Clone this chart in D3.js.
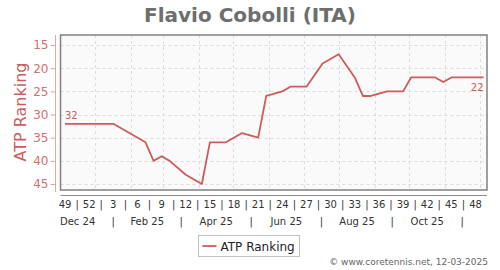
<!DOCTYPE html>
<html>
<head>
<meta charset="utf-8">
<script src="https://cdn.jsdelivr.net/npm/d3@7"></script>
<style>
  body { margin: 0; background: #fff; }
  svg { display: block; font-family: "DejaVu Sans", sans-serif; }
</style>
</head>
<body>
<div id="chart"></div>
<script>
// ranking weeks (Monday of the ATP week) and the ranking that week
var rankDates = ["2024-12-02", "2025-01-13", "2025-02-10", "2025-02-17", "2025-02-24",
  "2025-03-03", "2025-03-17", "2025-03-31", "2025-04-07", "2025-04-21", "2025-05-05",
  "2025-05-19", "2025-05-26", "2025-06-09", "2025-06-16", "2025-06-30", "2025-07-14",
  "2025-07-28", "2025-08-11", "2025-08-18", "2025-08-25", "2025-09-08", "2025-09-22",
  "2025-09-29", "2025-10-20", "2025-10-27", "2025-11-03", "2025-12-01"];
var rankValues = [32, 32, 36, 40, 39, 40, 43, 45, 36, 36, 34, 35, 26, 25, 24, 24, 19,
  17, 22, 26, 26, 25, 25, 22, 22, 23, 22, 22];

var weekLabels = [49, 52, 3, 6, 9, 12, 15, 18, 21, 24, 27, 30, 33, 36, 39, 42, 45, 48];
var monthLabels = ["Dec 24", "Feb 25", "Apr 25", "Jun 25", "Aug 25", "Oct 25"];
var yTicks = [15, 20, 25, 30, 35, 40, 45];

var seriesName = "ATP Ranking";
var title = "Flavio Cobolli (ITA)";
var credit = "\u00a9 www.coretennis.net, 12-03-2025";

function main() {
  var width = 500, height = 270;
  var plot = {left: 60.5, right: 487, top: 35, bottom: 190};
  var red = "#cd5c5c";

  var parse = d3.timeParse("%Y-%m-%d");
  // a week is drawn at its middle (Thursday noon)
  var mid = function(d) { return d3.timeHour.offset(d, 84); };
  var data = rankDates.map(function(d, i) { return {date: mid(parse(d)), rank: rankValues[i]}; });

  var x = d3.scaleTime()
    .domain([new Date(2024, 11, 1, 14), new Date(2025, 11, 7, 12)])
    .range([plot.left, plot.right]);
  var y = d3.scaleLinear()
    .domain([12.84, 46.29])
    .range([plot.top, plot.bottom]);

  var svg = d3.select("#chart").append("svg")
    .attr("width", width)
    .attr("height", height);

  svg.append("text")
    .attr("x", 250).attr("y", 22)
    .attr("text-anchor", "middle")
    .attr("font-size", 20).attr("font-weight", "bold")
    .attr("fill", "#6e6e6e")
    .text(title);

  // plot background
  svg.append("rect")
    .attr("x", plot.left).attr("y", plot.top)
    .attr("width", plot.right - plot.left).attr("height", plot.bottom - plot.top)
    .attr("fill", "#fafafa");

  // grid
  var grid = svg.append("g").attr("stroke", "#dcdcdc").attr("stroke-dasharray", "3,3");
  grid.selectAll("line.h")
    .data(yTicks)
    .enter().append("line")
    .attr("x1", plot.left).attr("x2", plot.right)
    .attr("y1", function(d) { return Math.round(y(d)) + 0.5; })
    .attr("y2", function(d) { return Math.round(y(d)) + 0.5; });
  var months = d3.timeMonth.range(x.domain()[0], x.domain()[1]);
  grid.selectAll("line.v")
    .data(months)
    .enter().append("line")
    .attr("y1", plot.top).attr("y2", plot.bottom)
    .attr("x1", function(d) { return Math.round(x(d)) + 0.5; })
    .attr("x2", function(d) { return Math.round(x(d)) + 0.5; });

  // the ranking line
  var line = d3.line()
    .x(function(d) { return x(d.date); })
    .y(function(d) { return y(d.rank); });
  svg.append("path")
    .datum(data)
    .attr("d", line)
    .attr("fill", "none")
    .attr("stroke", red)
    .attr("stroke-width", 1.8)
    .attr("stroke-linejoin", "round");

  // first and last value
  var first = data[0], last = data[data.length - 1];
  svg.append("text")
    .attr("x", x(first.date)).attr("y", y(first.rank) - 5)
    .attr("font-size", 10).attr("fill", red)
    .text(first.rank);
  svg.append("text")
    .attr("x", x(last.date)).attr("y", y(last.rank) + 14)
    .attr("text-anchor", "end")
    .attr("font-size", 10).attr("fill", red)
    .text(last.rank);

  // frame
  svg.append("rect")
    .attr("x", plot.left).attr("y", plot.top)
    .attr("width", plot.right - plot.left).attr("height", plot.bottom - plot.top)
    .attr("fill", "none").attr("stroke", "#808080").attr("stroke-width", 1.5);

  // y axis
  var yAxis = svg.append("g")
    .attr("transform", "translate(55.5,0)")
    .call(d3.axisLeft(y).tickValues(yTicks).tickSize(5).tickPadding(2));
  yAxis.select(".domain").attr("stroke", "#e3a5a5").attr("d", "M0," + plot.top + "V" + (plot.bottom + 2));
  yAxis.selectAll(".tick line").attr("stroke", "#e3a5a5");
  yAxis.selectAll(".tick text")
    .attr("fill", "#d07070").attr("font-size", 12)
    .attr("font-family", "DejaVu Sans, sans-serif");

  svg.append("text")
    .attr("transform", "translate(26,112) rotate(-90)")
    .attr("text-anchor", "middle")
    .attr("font-size", 16).attr("fill", red)
    .text(seriesName);

  // x axis
  svg.append("line")
    .attr("x1", plot.left).attr("x2", plot.right)
    .attr("y1", 195.5).attr("y2", 195.5)
    .attr("stroke", "#8c8c8c");

  var firstWeek = mid(parse(rankDates[0]));
  var weekPos = function(i) { return x(d3.timeWeek.offset(firstWeek, 3 * i)); };
  var xLabels = svg.append("g").attr("font-size", 10).attr("fill", "#333").attr("text-anchor", "middle");
  xLabels.selectAll("text.week")
    .data(weekLabels)
    .enter().append("text")
    .attr("x", function(d, i) { return weekPos(i); })
    .attr("y", 208)
    .text(function(d) { return d; });
  xLabels.selectAll("text.wsep")
    .data(weekLabels.slice(1))
    .enter().append("text")
    .attr("x", function(d, i) { return (weekPos(i) + weekPos(i + 1)) / 2; })
    .attr("y", 208)
    .text("|");

  var monthMid = function(m) {
    return x(new Date((+m + +d3.timeMonth.offset(m, 1)) / 2));
  };
  var monthStart = new Date(2024, 11, 1);
  xLabels.selectAll("text.month")
    .data(monthLabels)
    .enter().append("text")
    .attr("x", function(d, i) { return monthMid(d3.timeMonth.offset(monthStart, 2 * i)); })
    .attr("y", 225)
    .text(function(d) { return d; });
  xLabels.selectAll("text.msep")
    .data(monthLabels)
    .enter().append("text")
    .attr("x", function(d, i) { return monthMid(d3.timeMonth.offset(monthStart, 2 * i + 1)); })
    .attr("y", 225)
    .text("|");

  // legend
  var legend = svg.append("g").attr("transform", "translate(198.5,235.5)");
  legend.append("rect")
    .attr("width", 101).attr("height", 21)
    .attr("fill", "#fff").attr("stroke", "#c0c0c0");
  legend.append("line")
    .attr("x1", 4).attr("x2", 18).attr("y1", 10.5).attr("y2", 10.5)
    .attr("stroke", red).attr("stroke-width", 1.8);
  legend.append("text")
    .attr("x", 22).attr("y", 15)
    .attr("font-size", 12).attr("fill", "#222")
    .text(seriesName);

  svg.append("text")
    .attr("x", 488).attr("y", 265)
    .attr("text-anchor", "end")
    .attr("font-size", 9).attr("fill", "#666")
    .text(credit);
}

document.addEventListener("DOMContentLoaded", main);
</script>
</body>
</html>
